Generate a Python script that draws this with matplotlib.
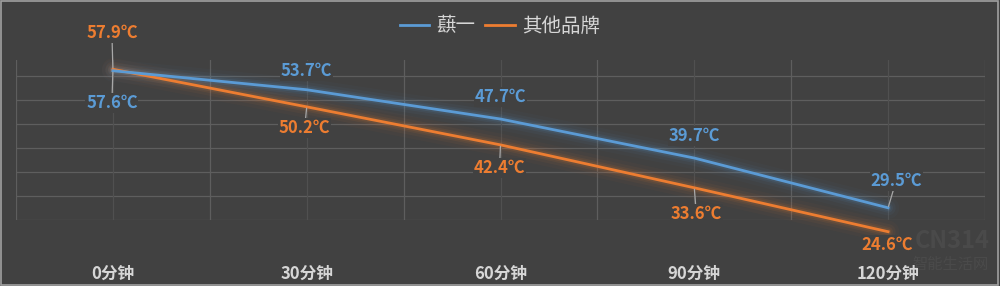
import matplotlib
matplotlib.use("Agg")
import matplotlib.pyplot as plt
from matplotlib.lines import Line2D
import numpy as np

plt.rcParams['font.family'] = ['Noto Sans CJK SC', 'DejaVu Sans']

categories = ['0分钟', '30分钟', '60分钟', '90分钟', '120分钟']
series_names = ['蕻一', '其他品牌']
blue_vals = [57.6, 53.7, 47.7, 39.7, 29.5]
orange_vals = [57.9, 50.2, 42.4, 33.6, 24.6]

BG = '#414141'
BLUE = '#5b9bd5'
ORANGE = '#ed7d31'
GRID = '#5e5e5e'
TXT = '#d6d6d6'

fig = plt.figure(figsize=(10, 2.86), dpi=100, facecolor=BG)
ax = fig.add_axes([0.016, 66/286, 0.969, 160/286])
ax.set_facecolor(BG)

x = np.arange(len(categories))
ymin, ystep, ymax = 27.0, 4.92, 59.8
ax.set_xlim(-0.5, len(categories) - 0.5)
ax.set_ylim(ymin, ymax)

# grid
for yv in ymin + ystep * np.arange(7):
    ax.axhline(yv, color=GRID, lw=0.9, zorder=1)
for xv in np.arange(-0.5, len(categories), 1.0):
    ax.axvline(xv, color=GRID, lw=0.9, zorder=1)
for xv in x:
    ax.axvline(xv, color='#505050', lw=0.9, zorder=1)

for s in ax.spines.values():
    s.set_visible(False)
ax.set_yticks([])
ax.set_xticks(x)
ax.set_xticklabels(categories, fontsize=12, fontweight='bold', color=TXT)
ax.tick_params(axis='x', length=0, pad=32)

# glow + lines
for vals, col in [(orange_vals, ORANGE), (blue_vals, BLUE)]:
    for lw, a in [(16, 0.03), (11, 0.05), (7, 0.08), (4.5, 0.12)]:
        ax.plot(x, vals, color=col, lw=lw, alpha=a, solid_capstyle='round',
                clip_on=False, zorder=2)
    ax.plot(x, vals, color=col, lw=2.0, clip_on=False, zorder=3)

# data labels: offsets in pixels (dx, dy downward positive), leader shown?
blue_off = [(-1, 32, True), (0, -19, False), (0, -22, False), (0, -22, False), (8, -27, True)]
orange_off = [(-1, -36, True), (-2, 21, True), (-1, 23, True), (2, 26, True), (-1, 13, False)]

def label(vals, offs, col):
    for xi, v, (dx, dy, lead) in zip(x, vals, offs):
        kw = {}
        if lead:
            kw['arrowprops'] = dict(arrowstyle='-', color='#a8a8a8', lw=0.9,
                                    shrinkA=0, shrinkB=1)
        ax.annotate(f'{v}℃', xy=(xi, v), xytext=(dx * 0.72, -dy * 0.72),
                    textcoords='offset points', ha='center', va='center',
                    fontsize=12, fontweight='bold', color=col,
                    bbox=dict(boxstyle='square,pad=0.05', fc=BG, ec='none'),
                    annotation_clip=False, zorder=5, **kw)

label(blue_vals, blue_off, BLUE)
label(orange_vals, orange_off, ORANGE)

# legend
handles = [Line2D([], [], color=BLUE, lw=2), Line2D([], [], color=ORANGE, lw=2)]
leg = fig.legend(handles, series_names, loc='center', bbox_to_anchor=(0.5, 1 - 26/286),
                 ncol=2, frameon=False, fontsize=14, labelcolor=TXT,
                 handlelength=1.5, handletextpad=0.4, columnspacing=0.5)

# watermark
fig.text(0.952, 1 - 241/286, 'CN314', ha='center', va='center', fontsize=17,
         fontweight='bold', color='white', alpha=0.05)
fig.text(0.951, 1 - 264/286, '智能生活网', ha='center', va='center', fontsize=11,
         color='white', alpha=0.05)

# outer border
fig.patches.append(plt.Rectangle((0.001, 0.002), 0.997, 0.995, transform=fig.transFigure,
                                 fill=False, ec='#a0a0a0', lw=1.2))

fig.savefig('out.png', dpi=100, facecolor=BG)
